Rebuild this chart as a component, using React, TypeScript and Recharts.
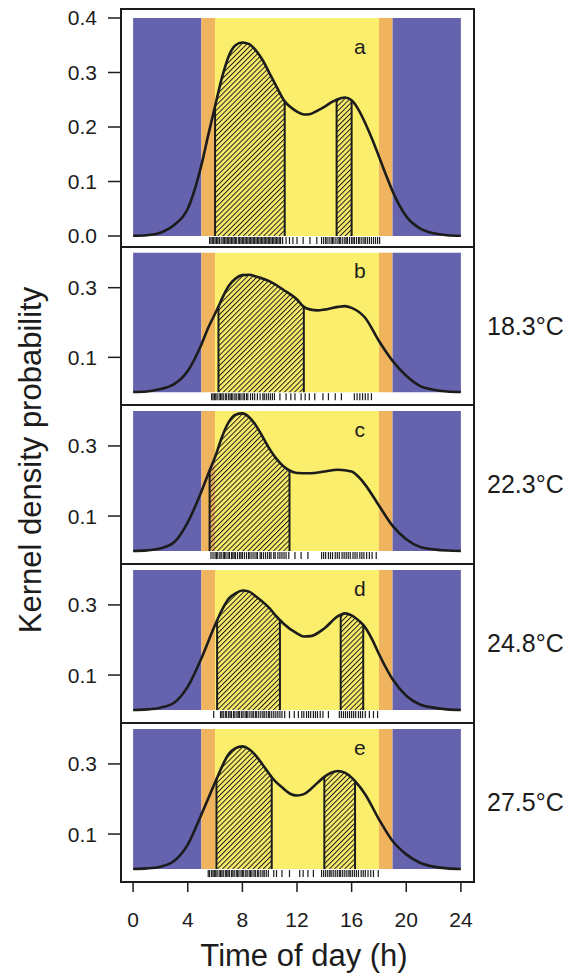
import React from 'react';
import {
  ComposedChart,
  Line,
  Area,
  Scatter,
  XAxis,
  YAxis,
  ReferenceArea,
  ReferenceLine,
  ReferenceDot,
} from 'recharts';

// light periods along the day (h)
const bandFrom = [0, 5, 6, 18, 19];
const bandTo = [5, 6, 18, 19, 24];
const bandKind = ['night', 'twilight', 'day', 'twilight', 'night'];
const BAND_COLORS: Record<string, string> = { night: '#6663ae', twilight: '#f0b45e', day: '#faee6c' };

const X_TICKS = [0, 4, 8, 12, 16, 20, 24];

// panel a
const hoursA = [0, 1, 2, 3, 4, 5, 5.5, 6, 6.5, 7, 7.5, 8, 8.5, 9, 9.5, 10, 10.5, 11.1, 11.5, 12, 12.5, 13, 13.5, 14, 14.5, 14.9, 15.5, 16, 16.5, 17, 17.5, 18, 18.5, 19, 19.5, 20, 21, 22, 23, 24];
const densA = [0.0005, 0.0015, 0.006, 0.02, 0.05, 0.13, 0.185, 0.238, 0.29, 0.33, 0.35, 0.355, 0.352, 0.34, 0.322, 0.298, 0.274, 0.247, 0.237, 0.228, 0.223, 0.224, 0.23, 0.237, 0.245, 0.25, 0.254, 0.249, 0.232, 0.207, 0.178, 0.146, 0.113, 0.082, 0.056, 0.036, 0.014, 0.005, 0.0015, 0.0005];
const hatchA = [[6.0, 11.1], [14.9, 16.0]];
const rugA = [5.6, 5.7, 5.8, 5.9, 6.0, 6.1, 6.2, 6.3, 6.35, 6.5, 6.6, 6.7, 6.8, 6.9, 7.0, 7.1, 7.2, 7.3, 7.4, 7.5, 7.55, 7.7, 7.8, 7.9, 8.0, 8.1, 8.2, 8.3, 8.4, 8.5, 8.6, 8.7, 8.8, 8.9, 9.0, 9.1, 9.2, 9.3, 9.4, 9.5, 9.6, 9.7, 9.8, 9.9, 10.0, 10.1, 10.2, 10.3, 10.4, 10.5, 10.6, 10.7, 10.8, 10.95, 11.2, 11.45, 11.7, 12.0, 12.45, 12.95, 13.45, 13.8, 13.95, 14.1, 14.2, 14.35, 14.5, 14.6, 14.7, 14.85, 15.0, 15.1, 15.2, 15.35, 15.5, 15.6, 15.7, 15.85, 16.0, 16.1, 16.2, 16.35, 16.5, 16.6, 16.75, 16.9, 17.0, 17.15, 17.3, 17.45, 17.6, 17.75, 17.9, 18.05];

// panel b, 18.3 °C
const hoursB = [0, 1, 2, 3, 4, 5, 5.5, 6, 6.25, 6.5, 7, 7.5, 8, 8.5, 9, 10, 11, 12, 12.5, 13, 13.5, 14, 15, 15.5, 16, 17, 18, 19, 20, 21, 22, 23, 24];
const densB = [0.0005, 0.002, 0.009, 0.023, 0.061, 0.137, 0.185, 0.225, 0.246, 0.268, 0.305, 0.326, 0.336, 0.337, 0.332, 0.318, 0.294, 0.266, 0.245, 0.237, 0.235, 0.237, 0.245, 0.247, 0.242, 0.213, 0.147, 0.09, 0.047, 0.018, 0.007, 0.002, 0.0005];
const hatchB = [[6.25, 12.5]];
const rugB = [5.75, 5.85, 5.95, 6.05, 6.15, 6.3, 6.4, 6.5, 6.6, 6.75, 6.85, 7.0, 7.1, 7.2, 7.3, 7.45, 7.55, 7.7, 7.8, 7.9, 8.05, 8.15, 8.3, 8.4, 8.6, 8.75, 8.9, 9.1, 9.3, 9.5, 9.6, 9.75, 9.9, 10.05, 10.2, 10.35, 10.75, 11.2, 11.55, 11.85, 12.3, 12.6, 12.9, 13.3, 13.9, 14.3, 14.8, 15.25, 16.2, 16.4, 16.6, 16.8, 17.0, 17.2, 17.45];

// panel c, 22.3 °C
const hoursC = [0, 1, 2, 3, 4, 5, 5.6, 6, 6.5, 7, 7.5, 8, 8.5, 9, 9.5, 10, 10.5, 11, 11.45, 12, 13, 14, 15, 16, 16.5, 17, 18, 19, 20, 21, 22, 23, 24];
const densC = [0.0005, 0.002, 0.008, 0.025, 0.082, 0.17, 0.23, 0.268, 0.325, 0.368, 0.389, 0.393, 0.382, 0.358, 0.325, 0.291, 0.263, 0.242, 0.23, 0.223, 0.222, 0.227, 0.232, 0.227, 0.212, 0.189, 0.13, 0.072, 0.034, 0.012, 0.005, 0.0015, 0.0005];
const hatchC = [[5.6, 11.45]];
const rugC = [5.7, 5.85, 6.0, 6.1, 6.2, 6.35, 6.45, 6.6, 6.7, 6.8, 6.95, 7.05, 7.2, 7.3, 7.4, 7.5, 7.65, 7.8, 7.9, 8.0, 8.15, 8.3, 8.45, 8.55, 8.7, 8.85, 9.0, 9.1, 9.3, 9.4, 9.55, 9.7, 9.85, 10.0, 10.1, 10.3, 10.4, 10.6, 10.75, 10.9, 11.05, 11.2, 11.4, 11.85, 12.3, 12.8, 13.8, 13.95, 14.1, 14.3, 14.45, 14.6, 14.8, 14.95, 15.1, 15.3, 15.45, 15.6, 15.75, 15.9, 16.1, 16.25, 16.4, 16.6, 16.75, 16.9, 17.1, 17.3, 17.5, 17.8];

// panel d, 24.8 °C
const hoursD = [0, 1, 2, 3, 4, 5, 6, 6.15, 6.5, 7, 7.5, 8, 8.5, 9, 10, 10.5, 10.75, 11, 12, 12.5, 13, 14, 15, 15.2, 15.5, 16, 16.5, 16.85, 17.5, 18, 19, 20, 21, 22, 23, 24];
const densD = [0.0005, 0.002, 0.007, 0.021, 0.067, 0.148, 0.243, 0.256, 0.285, 0.318, 0.333, 0.341, 0.338, 0.324, 0.29, 0.267, 0.257, 0.247, 0.219, 0.21, 0.211, 0.233, 0.268, 0.272, 0.276, 0.27, 0.256, 0.243, 0.202, 0.16, 0.088, 0.041, 0.016, 0.007, 0.002, 0.0005];
const hatchD = [[6.15, 10.75], [15.2, 16.85]];
const rugD = [5.9, 6.4, 6.5, 6.6, 6.75, 6.85, 7.0, 7.1, 7.2, 7.35, 7.45, 7.6, 7.7, 7.8, 7.95, 8.05, 8.2, 8.3, 8.4, 8.55, 8.7, 8.8, 8.95, 9.05, 9.2, 9.35, 9.5, 9.6, 9.75, 9.9, 10.0, 10.15, 10.3, 10.45, 10.6, 10.75, 10.9, 11.1, 11.45, 11.8, 12.1, 12.35, 12.5, 12.7, 12.85, 13.0, 13.2, 13.35, 13.5, 13.7, 13.9, 14.3, 15.1, 15.25, 15.4, 15.55, 15.7, 15.85, 16.0, 16.15, 16.3, 16.5, 16.65, 16.8, 17.0, 17.3, 17.6, 17.9];

// panel e, 27.5 °C
const hoursE = [0, 1, 2, 3, 4, 5, 6, 6.1, 7, 7.5, 8, 8.5, 9, 9.5, 10, 10.15, 11, 11.5, 12, 12.5, 13, 13.5, 14, 14.5, 15, 15.5, 16, 16.25, 17, 18, 19, 20, 21, 22, 23, 24];
const densE = [0.0005, 0.002, 0.007, 0.023, 0.07, 0.156, 0.247, 0.256, 0.328, 0.345, 0.35, 0.342, 0.323, 0.297, 0.27, 0.262, 0.23, 0.215, 0.21, 0.214, 0.228, 0.246, 0.263, 0.275, 0.28, 0.275, 0.261, 0.251, 0.213, 0.142, 0.08, 0.042, 0.018, 0.007, 0.002, 0.0005];
const hatchE = [[6.1, 10.15], [14.0, 16.25]];
const rugE = [5.5, 5.6, 5.75, 5.85, 5.95, 6.05, 6.15, 6.3, 6.4, 6.5, 6.6, 6.75, 6.85, 6.95, 7.05, 7.2, 7.3, 7.4, 7.55, 7.65, 7.75, 7.9, 8.0, 8.1, 8.25, 8.35, 8.5, 8.6, 8.7, 8.85, 8.95, 9.1, 9.2, 9.35, 9.5, 9.6, 9.75, 9.9, 10.3, 10.5, 10.9, 11.45, 12.2, 12.45, 12.8, 13.2, 13.8, 13.95, 14.1, 14.25, 14.4, 14.5, 14.65, 14.8, 14.95, 15.1, 15.2, 15.35, 15.5, 15.65, 15.8, 15.9, 16.05, 16.2, 16.35, 16.5, 16.7, 16.85, 17.0, 17.2, 17.4, 17.6, 17.95];

const panelLetters = ['a', 'b', 'c', 'd', 'e'];
const temperatures = ['', '18.3°C', '22.3°C', '24.8°C', '27.5°C'];

// layout: horizontal separators of the stacked panels (px)
const SEPS = [9, 247, 405, 564, 723, 882];
const PLOT_LEFT = 120;
const PLOT_RIGHT = 474;
const W = 571;
const X_AXIS_H = 93;
const PAD = 9; // room above each plot so tick labels are not clipped
const INK = '#1c1c1c';

const panels = [
  { hours: hoursA, dens: densA, hatch: hatchA, rug: rugA, ticks: [0, 0.1, 0.2, 0.3, 0.4], domain: [-0.0202, 0.4165] },
  { hours: hoursB, dens: densB, hatch: hatchB, rug: rugB, ticks: [0.1, 0.3], domain: [-0.0368, 0.4168] },
  { hours: hoursC, dens: densC, hatch: hatchC, rug: rugC, ticks: [0.1, 0.3], domain: [-0.0368, 0.4168] },
  { hours: hoursD, dens: densD, hatch: hatchD, rug: rugD, ticks: [0.1, 0.3], domain: [-0.0368, 0.4168] },
  { hours: hoursE, dens: densE, hatch: hatchE, rug: rugE, ticks: [0.1, 0.3], domain: [-0.0368, 0.4168] },
];

const RugTick = (props: any) => {
  const { cx, cy } = props;
  if (cx == null || cy == null) return null;
  return <line x1={cx} x2={cx} y1={cy + 1} y2={cy + 8} stroke={INK} strokeWidth={1.2} />;
};

function Panel({ index }: { index: number }) {
  const p = panels[index];
  const isLast = index === panels.length - 1;
  const top = SEPS[index];
  const plotH = SEPS[index + 1] - top;
  const curve = p.hours.map((h, i) => ({ h, v: p.dens[i] }));
  const rug = p.rug.map((h) => ({ h, v: 0 }));
  const patternId = `hatch-${index}`;
  const valueAt = (h: number) => p.dens[p.hours.indexOf(h)];

  return (
    <div style={{ position: 'absolute', left: 0, top: top - PAD }}>
      <ComposedChart
        width={W}
        height={PAD + plotH + (isLast ? X_AXIS_H : 0)}
        margin={{ top: PAD, right: 0, bottom: 0, left: 0 }}
      >
        <defs>
          <pattern id={patternId} patternUnits="userSpaceOnUse" width={3.6} height={3.6} patternTransform="rotate(45)">
            <line x1={0} y1={0} x2={0} y2={3.6} stroke={INK} strokeWidth={2} />
          </pattern>
        </defs>
        <XAxis
          type="number"
          dataKey="h"
          domain={[-0.96, 24.96]}
          ticks={X_TICKS}
          interval={0}
          hide={!isLast}
          height={X_AXIS_H}
          tickSize={10}
          tickMargin={20}
          axisLine={false}
          tickLine={{ stroke: INK, strokeWidth: 1.5 }}
          tick={{ fontSize: 21, fill: INK }}
          allowDataOverflow
          label={
            isLast
              ? { value: 'Time of day (h)', position: 'insideBottom', offset: 9, dx: 7, fontSize: 31, fill: INK }
              : undefined
          }
        />
        <YAxis
          yAxisId="l"
          type="number"
          dataKey="v"
          domain={p.domain}
          ticks={p.ticks}
          interval={0}
          allowDataOverflow
          width={PLOT_LEFT}
          tickSize={12}
          tickMargin={11}
          axisLine={false}
          tickLine={{ stroke: INK, strokeWidth: 1.5 }}
          tick={{ fontSize: 21, fill: INK }}
          tickFormatter={(v: number) => v.toFixed(1)}
        />
        <YAxis
          yAxisId="t"
          orientation="right"
          width={W - PLOT_RIGHT}
          tick={false}
          tickLine={false}
          axisLine={false}
          label={
            temperatures[index]
              ? { value: temperatures[index], position: 'insideLeft', offset: 13, fontSize: 25, fill: INK }
              : undefined
          }
        />
        {bandFrom.map((x1, i) => (
          <ReferenceArea
            key={`band-${i}`}
            yAxisId="l"
            x1={x1}
            x2={bandTo[i]}
            y1={0}
            y2={0.4}
            fill={BAND_COLORS[bandKind[i]]}
            fillOpacity={1}
            stroke="none"
            ifOverflow="visible"
          />
        ))}
        {p.hatch.map(([s, e], k) => (
          <Area
            key={`hatch-${k}`}
            yAxisId="l"
            data={curve.filter((d) => d.h >= s && d.h <= e)}
            dataKey="v"
            type="monotone"
            baseValue={0}
            fill={`url(#${patternId})`}
            fillOpacity={1}
            stroke="none"
            isAnimationActive={false}
          />
        ))}
        {p.hatch.flatMap(([s, e], k) =>
          [s, e].map((x, j) => (
            <ReferenceLine
              key={`edge-${k}-${j}`}
              yAxisId="l"
              segment={[{ x, y: 0 }, { x, y: valueAt(x) }]}
              stroke={INK}
              strokeWidth={2}
            />
          ))
        )}
        <Line
          yAxisId="l"
          data={curve}
          dataKey="v"
          type="monotone"
          stroke={INK}
          strokeWidth={2.6}
          dot={false}
          isAnimationActive={false}
        />
        <Scatter yAxisId="l" data={rug} shape={RugTick} isAnimationActive={false} />
        <ReferenceDot
          yAxisId="l"
          x={16.6}
          y={0.348}
          r={0}
          fill="none"
          stroke="none"
          label={{ value: panelLetters[index], position: 'center', fontSize: 21, fill: INK }}
        />
      </ComposedChart>
    </div>
  );
}

export default function App() {
  return (
    <div
      style={{
        position: 'absolute',
        left: 0,
        top: 0,
        width: W,
        height: 975,
        background: '#fff',
        fontFamily: '"Liberation Sans", Arial, Helvetica, sans-serif',
      }}
    >
      {panels.map((_, i) => (
        <Panel key={i} index={i} />
      ))}
      {panels.map((_, i) => (
        <div
          key={`frame-${i}`}
          style={{
            position: 'absolute',
            left: PLOT_LEFT,
            top: SEPS[i] - 1,
            width: PLOT_RIGHT - PLOT_LEFT + 1,
            height: SEPS[i + 1] - SEPS[i] + 2,
            border: `2px solid ${INK}`,
            boxSizing: 'border-box',
            pointerEvents: 'none',
          }}
        />
      ))}
      <div
        style={{
          position: 'absolute',
          left: 30,
          top: 460,
          transform: 'translate(-50%, -50%) rotate(-90deg)',
          fontSize: 31,
          lineHeight: 1,
          whiteSpace: 'nowrap',
          color: INK,
        }}
      >
        Kernel density probability
      </div>
    </div>
  );
}
